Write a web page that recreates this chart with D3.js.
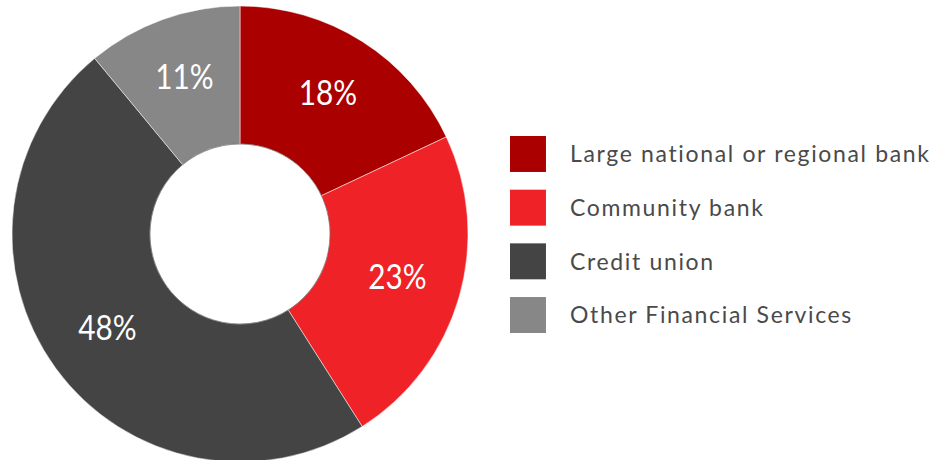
<!DOCTYPE html>
<html>
<head>
<meta charset="utf-8">
<script src="https://cdn.jsdelivr.net/npm/d3@7"></script>
<style>
  body { margin: 0; background: #fff; }
  svg { display: block; }
</style>
</head>
<body>
<div id="chart"></div>
<script>
var categories = ["Large national or regional bank", "Community bank", "Credit union", "Other Financial Services"];
var values = [18, 23, 48, 11];
var labels = ["18%", "23%", "48%", "11%"];
var colors = ["#aa0000", "#ee2227", "#444444", "#878787"];

var width = 942, height = 460;
var cx = 240, cy = 234;
var outerR = 228, innerR = 90, labelR = 164;

var data = categories.map(function(c, i) {
    return { name: c, value: values[i], label: labels[i], color: colors[i] };
});

var svg = d3.select("#chart").append("svg")
    .attr("width", width)
    .attr("height", height);

var pie = d3.pie()
    .sort(null)
    .value(function(d) { return d.value; });

var arc = d3.arc()
    .innerRadius(innerR)
    .outerRadius(outerR);

var labelArc = d3.arc()
    .innerRadius(labelR)
    .outerRadius(labelR);

var g = svg.append("g")
    .attr("transform", "translate(" + cx + "," + cy + ")");

var slices = g.selectAll(".slice")
    .data(pie(data))
    .enter().append("g")
    .attr("class", "slice");

slices.append("path")
    .attr("d", arc)
    .attr("fill", function(d) { return d.data.color; })
    .attr("stroke", "#fff")
    .attr("stroke-width", 0.5);

// faint edge round the hole
g.append("circle")
    .attr("r", innerR)
    .attr("fill", "none")
    .attr("stroke", "#555")
    .attr("stroke-width", 0.6);

// labels: a bit narrower than plain Lato, like the original
slices.append("text")
    .attr("transform", function(d) { return "translate(" + labelArc.centroid(d) + ") scale(0.85,1)"; })
    .attr("text-anchor", "middle")
    .attr("dy", "0.26em")
    .style("font-family", "Lato, sans-serif")
    .style("font-size", "35px")
    .attr("fill", "#fff")
    .text(function(d) { return d.data.label; });

// legend
var legendY = d3.scaleBand()
    .domain(categories)
    .range([136, 333])
    .paddingInner(0.33);

var legend = svg.append("g")
    .attr("class", "legend");

var items = legend.selectAll(".item")
    .data(data)
    .enter().append("g")
    .attr("class", "item")
    .attr("transform", function(d) { return "translate(510," + legendY(d.name) + ")"; });

items.append("rect")
    .attr("width", legendY.bandwidth())
    .attr("height", legendY.bandwidth())
    .attr("fill", function(d) { return d.color; });

items.append("text")
    .attr("x", 60)
    .attr("y", legendY.bandwidth() / 2)
    .attr("dy", "0.36em")
    .style("font-family", "Lato, sans-serif")
    .style("font-size", "23px")
    .style("letter-spacing", "1.65px")
    .attr("fill", "#4a4a4a")
    .text(function(d) { return d.name; });
</script>
</body>
</html>
